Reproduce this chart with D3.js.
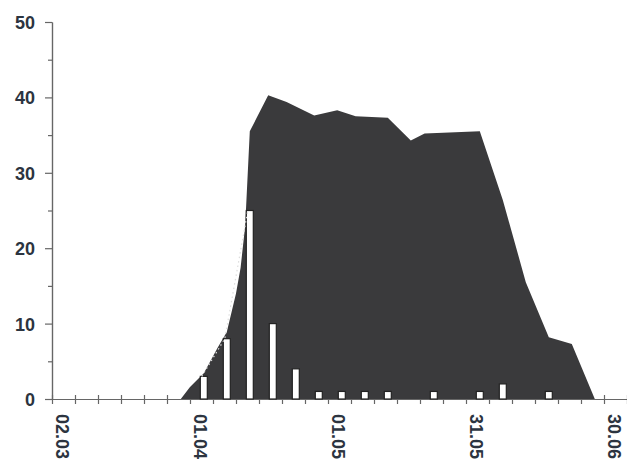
<!DOCTYPE html>
<html>
<head>
<meta charset="utf-8">
<script src="https://cdn.jsdelivr.net/npm/d3@7"></script>
<style>
  body { margin: 0; background: #fff; }
  svg text { font-family: "Liberation Sans", Arial, sans-serif; font-weight: bold; font-size: 18px; fill: #2c3440; }
  .axis path, .axis line { stroke: #666; stroke-width: 1.2; }
</style>
</head>
<body>
<div id="chart"></div>
<script>
// axis labels
var xLabels = ["02.03", "01.04", "01.05", "31.05", "30.06"];
var yTicks = [0, 10, 20, 30, 40, 50];

// dark area series (dd.mm)
var areaDates = ["30.03", "01.04", "04.04", "07.04", "09.04", "11.04", "12.04", "13.04", "14.04",
  "18.04", "22.04", "28.04", "03.05", "07.05", "14.05", "19.05", "22.05", "03.06",
  "08.06", "13.06", "18.06", "23.06", "28.06"];
var areaValues = [0, 1.6, 3.4, 6.8, 8.9, 14, 17.4, 23, 35.5,
  40.3, 39.4, 37.6, 38.3, 37.5, 37.3, 34.3, 35.2, 35.5,
  26.4, 15.5, 8.2, 7.3, 0];

// white bars
var barDates = ["04.04", "09.04", "14.04", "19.04", "24.04", "29.04", "04.05", "09.05",
  "14.05", "24.05", "03.06", "08.06", "18.06"];
var barValues = [3, 8, 25, 10, 4, 1, 1, 1, 1, 1, 1, 2, 1];

// svg container
var svgWidth = 627;
var svgHeight = 469;

var margin = { top: 22, right: 0, bottom: 70, left: 52 };

var width = svgWidth - margin.left - margin.right;
var height = svgHeight - margin.top - margin.bottom;

var svg = d3.select("#chart")
  .append("svg")
  .attr("width", svgWidth)
  .attr("height", svgHeight);

var chartGroup = svg.append("g")
  .attr("transform", `translate(${margin.left}, ${margin.top})`);

var parseDate = d3.timeParse("%d.%m.%Y");
function toDate(s) { return parseDate(s + ".2001"); }

var startDate = toDate("02.03");

// scales
var xScale = d3.scaleTime()
  .domain([startDate, toDate("05.07")])
  .range([0, width]);

var yScale = d3.scaleLinear()
  .domain([0, 50])
  .range([height, 0]);

// x axis: small ticks every 5 days
var minorDays = d3.range(0, 126, 5).map(d => d3.timeDay.offset(startDate, d));

var xMinor = chartGroup.append("g")
  .attr("class", "axis")
  .attr("transform", `translate(0, ${height})`)
  .call(d3.axisBottom(xScale).tickValues(minorDays).tickSize(5).tickSizeOuter(0).tickFormat(""));
xMinor.selectAll(".tick line").attr("y1", -4).attr("y2", 5);

// x axis labels, rotated
var xLab = chartGroup.append("g")
  .attr("transform", `translate(0, ${height})`)
  .call(d3.axisBottom(xScale).tickValues(xLabels.map(toDate)).tickSize(0).tickFormat(d3.timeFormat("%d.%m")));
xLab.select(".domain").remove();
xLab.selectAll(".tick text")
  .attr("transform", "rotate(90)")
  .attr("text-anchor", "start")
  .attr("x", 15)
  .attr("y", -3)
  .attr("dy", 0)
  .style("font-size", null);

// y axis
var yMinor = chartGroup.append("g")
  .attr("class", "axis")
  .call(d3.axisLeft(yScale).tickValues(d3.range(5, 50, 10)).tickSize(4).tickSizeOuter(0).tickFormat(""));

var yAxis = chartGroup.append("g")
  .attr("class", "axis")
  .call(d3.axisLeft(yScale).tickValues(yTicks).tickSize(7).tickSizeOuter(0).tickPadding(10));
yAxis.selectAll(".tick text").attr("dy", "0.36em");
yAxis.selectAll("text").attr("font-size", null).attr("font-family", null);
xLab.selectAll("text").attr("font-size", null).attr("font-family", null);
xLab.attr("font-size", null).attr("font-family", null);
yAxis.attr("font-size", null).attr("font-family", null);

// dark area
var areaData = areaDates.map((d, i) => ({ date: toDate(d), value: areaValues[i] }));

var area = d3.area()
  .x(d => xScale(d.date))
  .y0(yScale(0))
  .y1(d => yScale(d.value));

chartGroup.append("path")
  .datum(areaData)
  .attr("d", area)
  .attr("fill", "#3a3a3c");

// white bars
var barData = barDates.map((d, i) => ({ date: toDate(d), value: barValues[i] }));
var barW = 7;

chartGroup.selectAll(".bar")
  .data(barData)
  .enter()
  .append("rect")
  .attr("class", "bar")
  .attr("x", d => xScale(d.date) - barW / 2)
  .attr("y", d => yScale(d.value))
  .attr("width", barW)
  .attr("height", d => yScale(0) - yScale(d.value))
  .attr("fill", "#fff")
  .attr("stroke", "#222")
  .attr("stroke-width", 1.2);

// faint dotted line over the first bars
var line = d3.line()
  .x(d => xScale(d.date) - 2)
  .y(d => yScale(d.value));

chartGroup.append("path")
  .datum(barData.slice(0, 3))
  .attr("d", line)
  .attr("fill", "none")
  .attr("stroke", "#ddd")
  .attr("stroke-width", 1.2)
  .attr("stroke-dasharray", "1.5,3");
</script>
</body>
</html>
